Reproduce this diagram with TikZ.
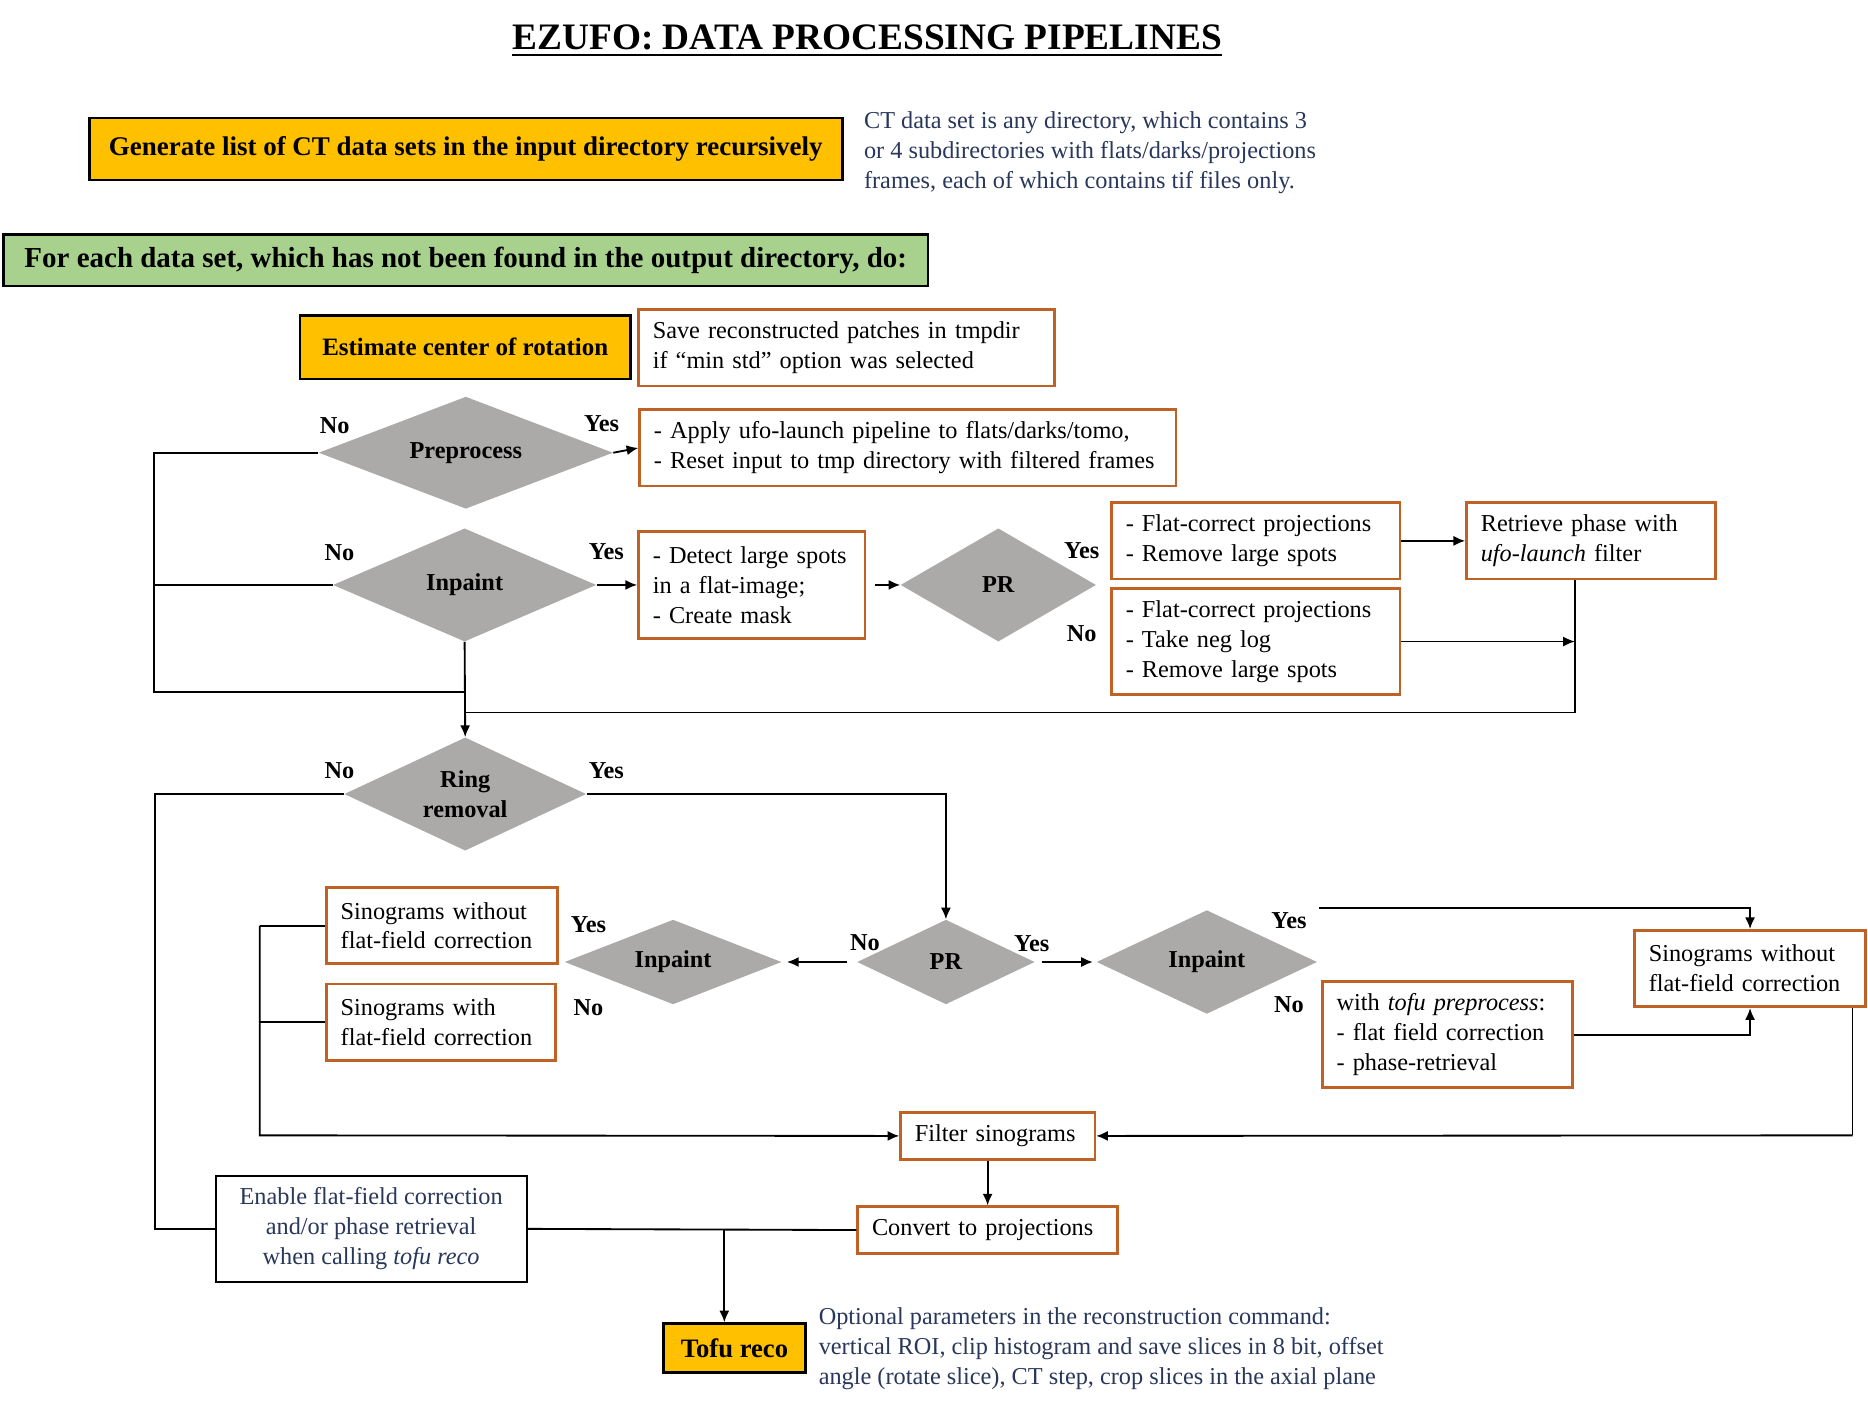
\documentclass[tikz,border=0pt]{standalone}
\usepackage{fontspec}
\setmainfont{Liberation Serif}
\usetikzlibrary{shapes.geometric,arrows.meta}
\definecolor{ezyellow}{RGB}{255,192,0}
\definecolor{ezgreen}{RGB}{169,209,142}
\definecolor{ezorange}{RGB}{192,98,38}
\definecolor{ezgray}{RGB}{172,169,169}
\definecolor{ezblue}{RGB}{40,55,90}
\newcommand{\ezsize}{\fontsize{14.5}{17.8}\selectfont}

\begin{document}
\begin{tikzpicture}[x=0.025cm, y=-0.025cm,
  every node/.style={font=\ezsize},
  ybox/.style={draw, line width=1.5pt, fill=ezyellow, font=\ezsize\bfseries, inner sep=0pt},
  obox/.style={draw=ezorange, line width=1.6pt, fill=white, align=left, inner xsep=0.3cm, inner ysep=0pt},
  dec/.style={diamond, fill=ezgray, font=\ezsize\bfseries, inner sep=0pt, align=center},
  lab/.style={font=\ezsize\bfseries},
  note/.style={text=ezblue, align=left, anchor=west, inner sep=0pt},
  con/.style={line width=1.1pt},
  arr/.style={line width=1.1pt, -{Latex[length=7pt,width=6pt]}}]
  \useasboundingbox (0,0) rectangle (1568,1179);

  \node[font=\fontsize{22.3}{26}\selectfont\bfseries, inner sep=0pt] (title) at (728,31) {EZUFO: DATA PROCESSING PIPELINES};
  \draw[line width=1.5pt] ([yshift=-3.5pt]title.base west) -- ([yshift=-3.5pt]title.base east);

  \node[ybox, font=\fontsize{16.1}{19}\selectfont\bfseries, minimum width=15.8cm, minimum height=1.3cm] (gen) at (391,125) {Generate list of CT data sets in the input directory recursively};
  \node[note] (ctnote) at (725,128) {CT data set is any directory, which contains 3\\or 4 subdirectories with flats/darks/projections\\frames, each of which contains tif files only.};
  \node[ybox, fill=ezgreen, font=\fontsize{17.3}{20}\selectfont\bfseries, minimum width=19.4cm, minimum height=1.075cm] (each) at (391,218.5) {For each data set, which has not been found in the output directory, do:};

  \node[ybox, font=\fontsize{14.9}{18}\selectfont\bfseries, minimum width=6.925cm, minimum height=1.325cm] (est) at (390.5,291.5) {Estimate center of rotation};
  \node[obox, text width=8.125cm, minimum height=1.6cm] (save) at (710.5,292) {Save reconstructed patches in tmpdir\\if “min std” option was selected};

  \node[dec, shape aspect=2.6, minimum width=6.175cm, minimum height=2.35cm] (pre) at (391,380) {Preprocess};
  \node[obox, text width=10.65cm, minimum height=1.6cm] (ufo) at (762,376) {- Apply ufo-launch pipeline to flats/darks/tomo,\\- Reset input to tmp directory with filtered frames};
  \node[dec, shape aspect=2.3, minimum width=5.525cm, minimum height=2.375cm] (inp1) at (390,491) {Inpaint};
  \node[obox, text width=4.15cm, minimum height=2.25cm] (det) at (631,491) {- Detect large spots\\in a flat-image;\\- Create mask};
  \node[dec, shape aspect=1.7, minimum width=4.1cm, minimum height=2.375cm] (pr1) at (838,491) {PR};
  \node[obox, text width=5.45cm, minimum height=1.6cm] (flat1) at (1054,454) {- Flat-correct projections\\- Remove large spots};
  \node[obox, text width=5.45cm, minimum height=2.225cm] (flat2) at (1054,538.5) {- Flat-correct projections\\- Take neg log\\- Remove large spots};
  \node[obox, text width=4.625cm, minimum height=1.6cm] (phase) at (1335.5,454) {Retrieve phase with\\\textit{ufo-launch} filter};

  \node[dec, shape aspect=2.1, minimum width=5.075cm, minimum height=2.375cm] (ring) at (390.5,666.5) {Ring\\removal};
  \node[dec, shape aspect=2.1, minimum width=3.725cm, minimum height=1.775cm] (pr2) at (794,807.5) {PR};
  \node[dec, shape aspect=2.55, minimum width=4.55cm, minimum height=1.775cm] (inp2) at (565,807.5) {Inpaint};
  \node[dec, shape aspect=2.1, minimum width=4.625cm, minimum height=2.175cm] (inp3) at (1013,807.5) {Inpaint};
  \node[obox, text width=4.25cm, minimum height=1.6cm] (sinA) at (371,777) {Sinograms without\\flat-field correction};
  \node[obox, text width=4.2cm, minimum height=1.6cm] (sinB) at (370,858) {Sinograms with\\flat-field correction};
  \node[obox, text width=4.25cm, minimum height=1.6cm] (sinC) at (1469,813) {Sinograms without\\flat-field correction};
  \node[obox, text width=4.65cm, minimum height=2.225cm] (tofu) at (1215,868.5) {with \textit{tofu preprocess}:\\- flat field correction\\- phase-retrieval};

  \node[obox, text width=3.475cm, minimum height=0.975cm] (filt) at (837.5,953.5) {Filter sinograms};
  \node[obox, text width=4.85cm, minimum height=0.975cm] (conv) at (829,1032.5) {Convert to projections};
  \node[draw, line width=1.2pt, fill=white, text=ezblue, align=center, minimum width=6.525cm, minimum height=2.225cm] (enab) at (311.5,1031.5) {Enable flat-field correction\\and/or phase retrieval\\when calling \textit{tofu reco}};
  \node[ybox, font=\fontsize{15.9}{19}\selectfont\bfseries, minimum width=2.975cm, minimum height=1.025cm] (reco) at (616.5,1131.5) {Tofu reco};
  \node[note] (recnote) at (687,1132) {Optional parameters in the reconstruction command:\\vertical ROI, clip histogram and save slices in 8 bit, offset\\angle (rotate slice), CT step, crop slices in the axial plane};

  % yes / no
  \node[lab] (preno) at (281,357) {No};
  \node[lab] (preyes) at (505,356) {Yes};
  \node[lab] (inp1no) at (285,464) {No};
  \node[lab] (inp1yes) at (509,463) {Yes};
  \node[lab] (pr1yes) at (908,462) {Yes};
  \node[lab] (pr1no) at (908,532) {No};
  \node[lab] (ringno) at (285,647) {No};
  \node[lab] (ringyes) at (509,647) {Yes};
  \node[lab] (inp2yes) at (494,776) {Yes};
  \node[lab] (inp2no) at (494,846) {No};
  \node[lab] (pr2no) at (726,791) {No};
  \node[lab] (pr2yes) at (866,792) {Yes};
  \node[lab] (inp3yes) at (1082,773) {Yes};
  \node[lab] (inp3no) at (1082,843) {No};

  \coordinate (loopL) at (129,581);
  \coordinate (backR) at (1322,598);
  \coordinate (ringL) at (130,1031);
  \coordinate (inp3Y) at (1107,762);
  \coordinate (sinR) at (1555,953);
  \coordinate (sinL) at (218,953);
  \coordinate (recoT) at (608,1032);

  \draw[arr] (pre.east) -- (ufo.west);
  \draw[con] (pre.west) -| (loopL) -- (loopL -| inp1.south);
  \draw[con] (inp1.west) -- (inp1.west -| loopL);
  \draw[arr] (inp1.south) -- (ring.north);
  \draw[arr] (inp1.east) -- (det.west);
  \draw[arr, shorten <=5pt] (det.east) -- (pr1.west);
  \draw[arr] (flat1.east) -- (phase.west);
  \draw[arr] (flat2.east) -- (flat2.east -| backR);
  \draw[con] (phase.south -| backR) -- (backR) -- (backR -| inp1.south);

  \draw[con] (ring.west) -| (ringL |- enab.west) -- (enab.west);
  \draw[arr] (ring.east) -| (pr2.north);
  \draw[arr, shorten <=6pt, shorten >=3pt] (pr2.west) -- (inp2.east);
  \draw[arr, shorten <=4pt, shorten >=2pt] (pr2.east) -- (inp3.west);
  \draw[arr] (inp3Y) -| (sinC.north);
  \draw[arr] (tofu.east) -| (sinC.south);
  \draw[con] (sinC.south -| sinR) -- (sinR);
  \draw[arr] (sinR) -- (filt.east);
  \draw[con] (sinA.west) -- (sinA.west -| sinL);
  \draw[con] (sinB.west) -- (sinB.west -| sinL);
  \draw[arr] (sinA.west -| sinL) -- (sinL) -- (filt.west);
  \draw[arr] (conv.north |- filt.south) -- (conv.north);
  \draw[con] (conv.west) -- (enab.east);
  \draw[arr] (recoT) -- (recoT |- reco.north);
\end{tikzpicture}
\end{document}
